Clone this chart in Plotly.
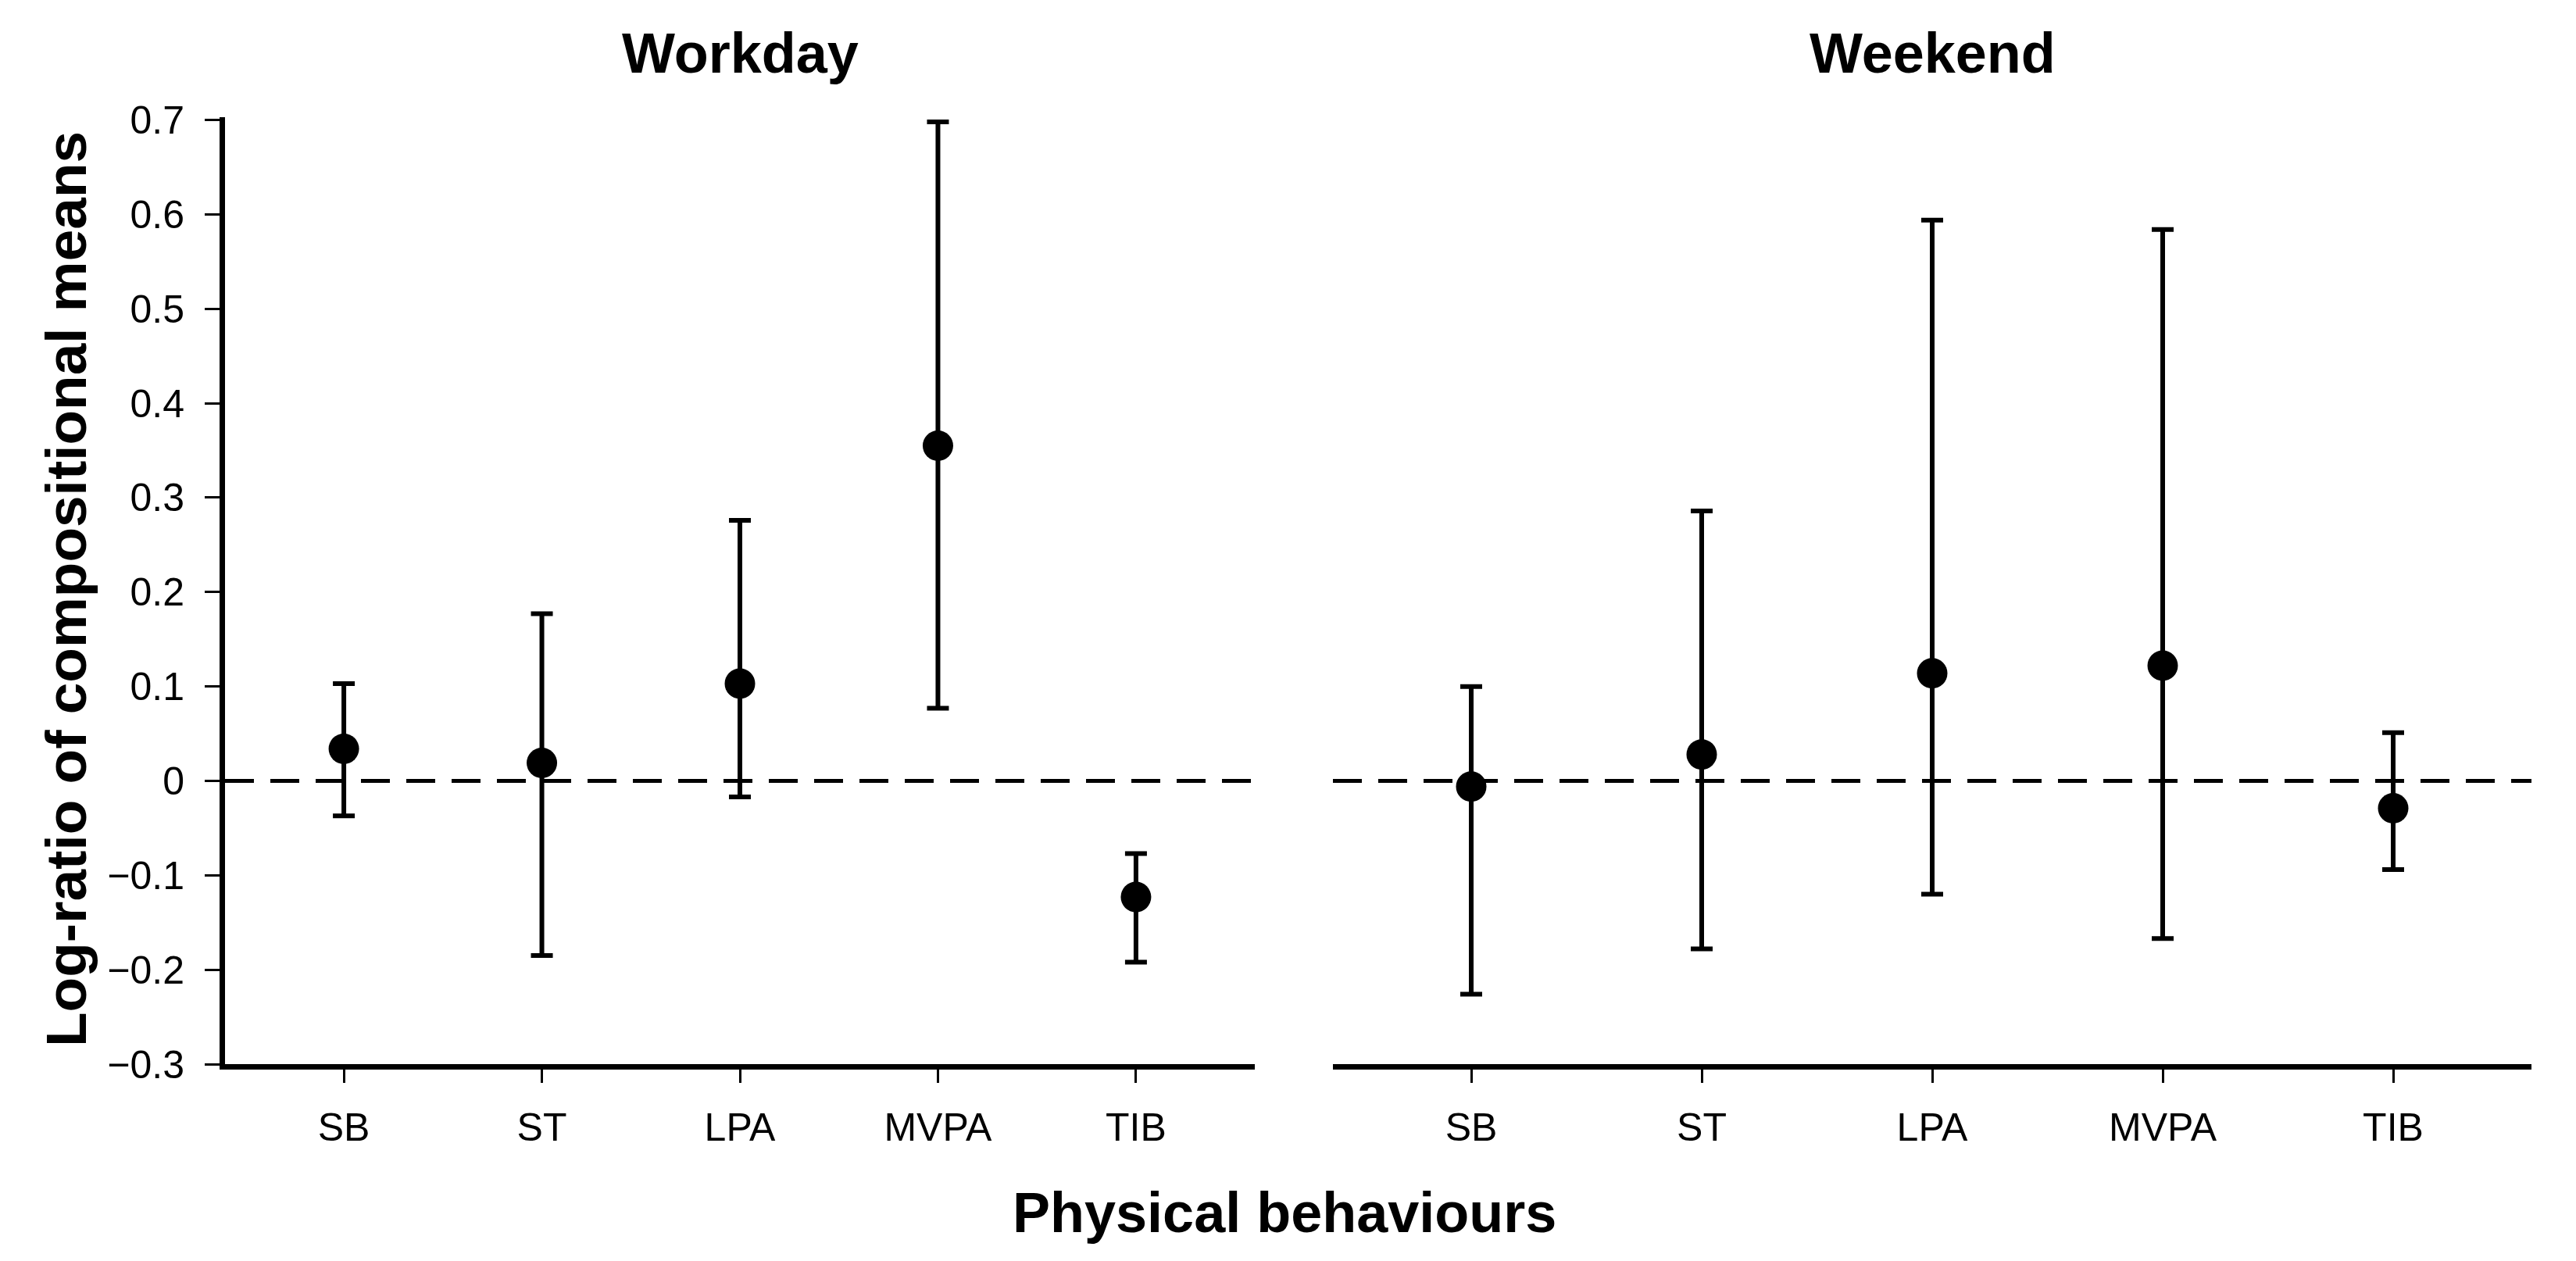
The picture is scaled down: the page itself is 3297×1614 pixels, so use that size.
import plotly.graph_objects as go

categories = ["SB", "ST", "LPA", "MVPA", "TIB"]

workday_mean = [0.034, 0.019, 0.103, 0.355, -0.123]
workday_upper = [0.103, 0.177, 0.276, 0.698, -0.077]
workday_lower = [-0.037, -0.185, -0.017, 0.077, -0.192]

weekend_mean = [-0.006, 0.028, 0.114, 0.122, -0.029]
weekend_upper = [0.100, 0.286, 0.594, 0.584, 0.051]
weekend_lower = [-0.226, -0.178, -0.120, -0.167, -0.094]

y_ticks = [-0.3, -0.2, -0.1, 0, 0.1, 0.2, 0.3, 0.4, 0.5, 0.6, 0.7]
panel_titles = ["Workday", "Weekend"]

FONT = "Liberation Sans, Arial, sans-serif"
W, H = 3297, 1614
OX, OY = 4, 8  # page body margin offset

fig = go.Figure()


def add_panel(mean, upper, lower, xa, ya):
    plus = [u - m for u, m in zip(upper, mean)]
    minus = [m - l for m, l in zip(mean, lower)]
    fig.add_trace(go.Scatter(
        x=categories, y=mean, mode="markers",
        marker=dict(size=39, color="black", symbol="circle"),
        error_y=dict(type="data", array=plus, arrayminus=minus, visible=True,
                     color="black", thickness=6, width=14),
        xaxis=xa, yaxis=ya, showlegend=False,
    ))


add_panel(workday_mean, workday_upper, workday_lower, "x", "y")
add_panel(weekend_mean, weekend_upper, weekend_lower, "x2", "y2")


def px_x(p):
    return (p - OX) / W


def px_y(p):
    return 1 - (p - OY) / H


y_dom = [px_y(1362), px_y(150)]
xdom1 = [px_x(284), px_x(1602)]
xdom2 = [px_x(1702), px_x(3236)]

xcommon = dict(
    type="category", range=[-0.6, 4.6], showline=True, linecolor="black",
    linewidth=7, ticks="outside", ticklen=17, tickwidth=3, tickcolor="black",
    showgrid=False, zeroline=False, tickfont=dict(family=FONT, size=50, color="black"),
    ticklabelstandoff=14, automargin=False,
)
ycommon = dict(range=[-0.3, 0.703], showgrid=False, zeroline=False, domain=y_dom,
               automargin=False)

fig.update_layout(
    width=W, height=H,
    margin=dict(l=0, r=0, t=0, b=0, pad=0, autoexpand=False),
    paper_bgcolor="white", plot_bgcolor="white",
    font=dict(family=FONT, color="black"),
    xaxis=dict(domain=xdom1, anchor="y", **xcommon),
    xaxis2=dict(domain=xdom2, anchor="y2", **xcommon),
    yaxis=dict(anchor="x", showline=True, linecolor="black", linewidth=7,
               ticks="outside", ticklen=19, tickwidth=3, tickcolor="black",
               tickvals=y_ticks, tickfont=dict(family=FONT, size=50, color="black"),
               ticklabelstandoff=16, **ycommon),
    yaxis2=dict(anchor="x2", showline=False, showticklabels=False, ticks="", **ycommon),
)

for xr, yr in [("x domain", "y"), ("x2 domain", "y2")]:
    fig.add_shape(type="line", xref=xr, yref=yr, x0=0, x1=1, y0=0, y1=0,
                  line=dict(color="black", width=5, dash="37px,21px"), layer="below")

for title, dom in zip(panel_titles, [xdom1, xdom2]):
    fig.add_annotation(text="<b>%s</b>" % title, xref="paper", yref="paper",
                       x=(dom[0] + dom[1]) / 2, y=px_y(68), xanchor="center",
                       yanchor="middle", showarrow=False,
                       font=dict(family=FONT, size=72, color="black"))

fig.add_annotation(text="<b>Physical behaviours</b>", xref="paper", yref="paper",
                   x=px_x(1640), y=px_y(1552), xanchor="center", yanchor="middle",
                   showarrow=False, font=dict(family=FONT, size=72, color="black"))

fig.add_annotation(text="<b>Log-ratio of compositional means</b>", xref="paper", yref="paper",
                   x=px_x(80), y=px_y(754), xanchor="center", yanchor="middle",
                   textangle=-90, showarrow=False,
                   font=dict(family=FONT, size=73, color="black"))

fig.write_html("out.html")
